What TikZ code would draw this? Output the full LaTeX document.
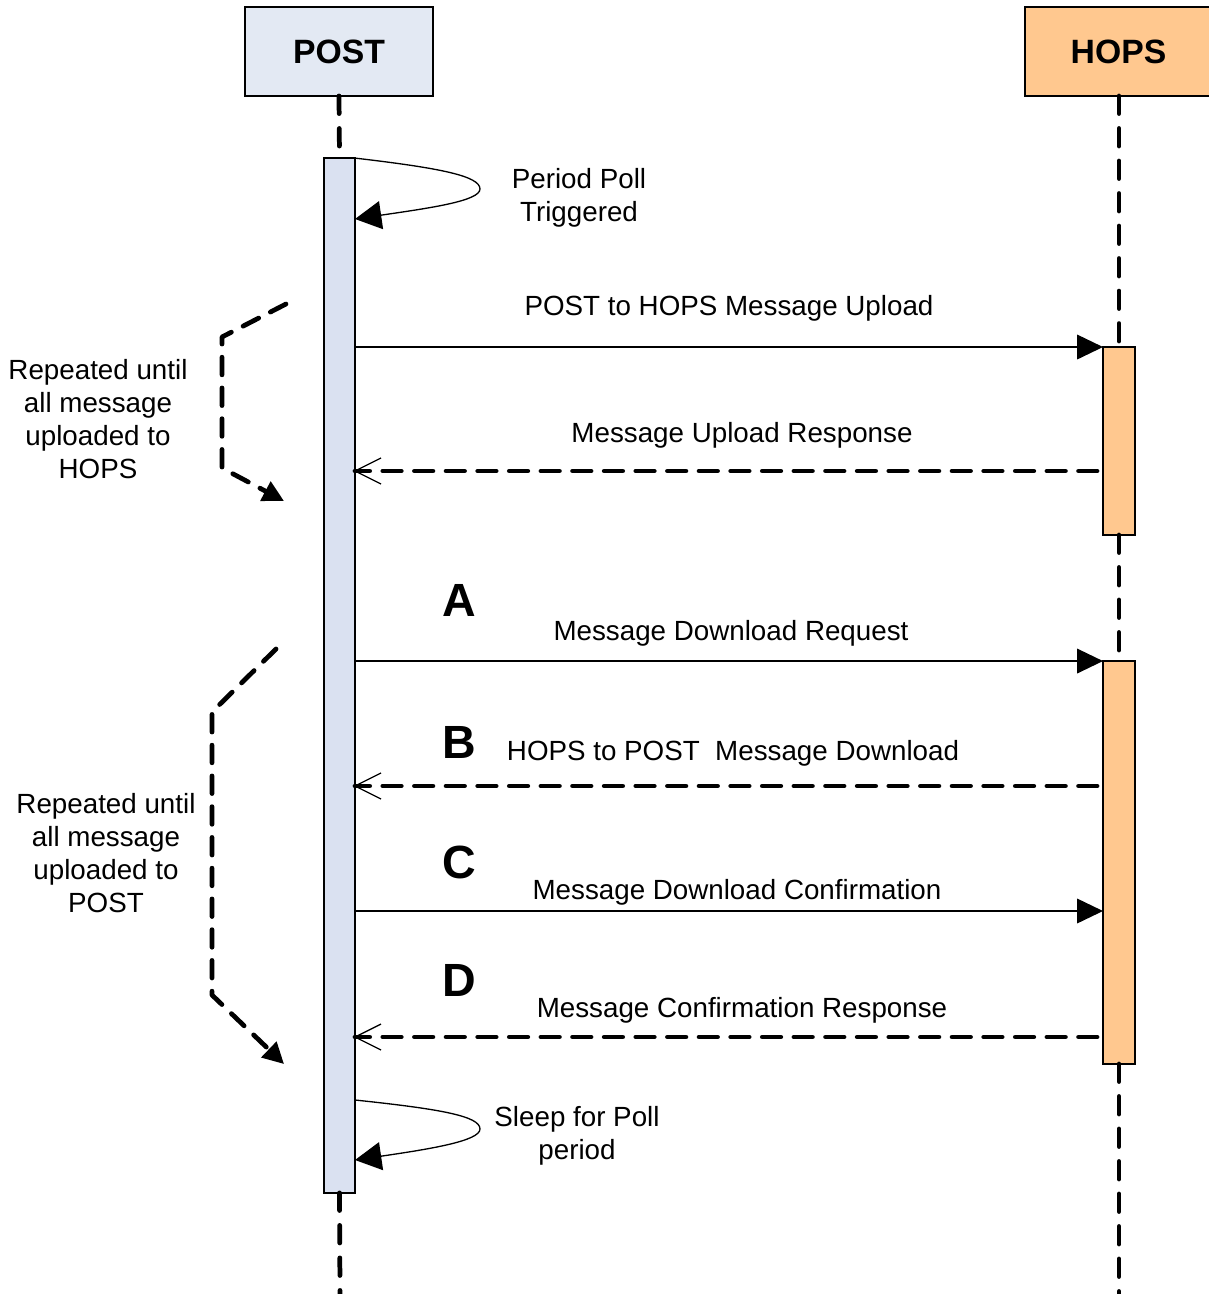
\documentclass[tikz,border=0pt]{standalone}
\usepackage{fontspec}
\setmainfont{Liberation Sans}
\usetikzlibrary{arrows.meta}
\definecolor{postfill}{RGB}{227,233,243}
\definecolor{barfill}{RGB}{218,225,241}
\definecolor{hopsfill}{RGB}{255,200,143}
\begin{document}
\begin{tikzpicture}[x=0.02cm,y=-0.02cm,
 header/.style={draw=black,line width=0.9pt,minimum height=1.78cm,inner sep=0pt,outer sep=0pt,font=\fontsize{19.2}{23}\selectfont\bfseries},
 bar/.style={draw=black,line width=0.9pt,inner sep=0pt,outer sep=0pt},
 lifeline/.style={line width=2.7pt,line cap=round,dash pattern=on 10pt off 8.5pt},
 reply/.style={line width=2.7pt,line cap=round,dash pattern=on 10.5pt off 7.5pt,shorten <=0.12cm},
 call/.style={line width=0.75pt,-{Triangle[length=14.7pt,width=14pt]}},
 barb/.style={line width=0.75pt},
 selfloop/.style={line width=0.75pt,-{Triangle[length=15pt,width=16pt]}},
 lbl/.style={font=\fontsize{15.8}{18.7}\selectfont,inner sep=0pt,align=center},
 letter/.style={font=\fontsize{26.5}{30}\selectfont\bfseries,inner sep=0pt},
 bracket/.style={line width=2.7pt,line cap=round,line join=round,dash pattern=on 10pt off 7.5pt,-{Triangle[length=12pt,width=12pt]}},
]
\useasboundingbox (0,0) rectangle (1208,1294);

% headers
\node[header,fill=postfill,minimum width=3.76cm] (post) at (339,51.5) {POST};
\node[header,fill=hopsfill,minimum width=3.9cm] (hops) at (1122.5,51.5) {};
\node[font=\fontsize{19.2}{23}\selectfont\bfseries,inner sep=0pt] (hopstxt) at (1118.5,51.5) {HOPS};

% activation bars
\node[bar,fill=barfill,minimum width=0.62cm,minimum height=20.7cm] (postbar) at (339.5,675.5) {};
\node[bar,fill=hopsfill,minimum width=0.64cm,minimum height=3.76cm] (hopsbarA) at (1119,441) {};
\node[bar,fill=hopsfill,minimum width=0.64cm,minimum height=8.06cm] (hopsbarB) at (1119,862.5) {};

\coordinate (postend) at (340,1294);
\coordinate (hopsend) at (1119,1294);
\coordinate (hopstop) at (1119,96);

% lifelines
\draw[lifeline] (post.south) -- (postbar.north);
\draw[lifeline] (postbar.south) -- (postend);
\draw[lifeline] (hopstop) -- (hopsbarA.north);
\draw[lifeline] (hopsbarA.south) -- (hopsbarB.north);
\draw[lifeline] (hopsbarB.south) -- (hopsend);

% self loops
\coordinate (loopAend) at (355,219);
\coordinate (loopBstart) at (355,1100);
\coordinate (loopBend) at (355,1160);
\draw[selfloop] (postbar.north east) .. controls (440,168) and (480,176) .. (480,189) .. controls (480,201) and (430,208) .. (loopAend);
\draw[selfloop] (loopBstart) .. controls (440,1109) and (480,1116) .. (480,1129) .. controls (480,1141) and (430,1149) .. (loopBend);
\node[lbl] (lpA) at (579,198) {Period Poll\\ Triggered};
\node[lbl] (lpB) at (577,1136) {Sleep for Poll\\period};

% messages
\draw[call] (postbar.east |- hopsbarA.north west) -- (hopsbarA.north west);
\node[lbl] (m1) at (729,308) {POST to HOPS Message Upload};

\coordinate (r1) at (355,471);
\draw[reply] (hopsbarA.west |- r1) -- (r1);
\draw[barb] (r1) ++(26,-13) -- (r1) -- ++(26,13);
\node[lbl] (m2) at (742,435) {Message Upload Response};

\draw[call] (postbar.east |- hopsbarB.north west) -- (hopsbarB.north west);
\node[letter] (la) at (459,600) {A};
\node[lbl] (m3) at (731,633) {Message Download Request};

\coordinate (r2) at (355,786);
\draw[reply] (hopsbarB.west |- r2) -- (r2);
\draw[barb] (r2) ++(26,-13) -- (r2) -- ++(26,13);
\node[letter] (lb) at (459,742) {B};
\node[lbl] (m4) at (733,753) {HOPS to POST\ \ Message Download};

\coordinate (c3) at (1103,911);
\draw[call] (postbar.east |- c3) -- (c3);
\node[letter] (lc) at (459,862) {C};
\node[lbl] (m5) at (737,892) {Message Download Confirmation};

\coordinate (r3) at (355,1037);
\draw[reply] (hopsbarB.west |- r3) -- (r3);
\draw[barb] (r3) ++(26,-13) -- (r3) -- ++(26,13);
\node[letter] (ld) at (459,980) {D};
\node[lbl] (m6) at (742,1010) {Message Confirmation Response};

% repeat brackets
\coordinate (bA1) at (286,304);
\coordinate (bA2) at (222,337);
\coordinate (bA3) at (222,468);
\coordinate (bA4) at (284,501);
\draw[bracket] (bA1) -- (bA2) -- (bA3) -- (bA4);
\node[lbl] (tA) at (98,419) {Repeated until\\all message\\uploaded to\\HOPS};

\coordinate (bB1) at (276,649);
\coordinate (bB2) at (212,712);
\coordinate (bB3) at (212,995);
\coordinate (bB4) at (284,1064);
\draw[bracket] (bB1) -- (bB2) -- (bB3) -- (bB4);
\node[lbl] (tB) at (106,853) {Repeated until\\all message\\uploaded to\\POST};
\end{tikzpicture}
\end{document}
